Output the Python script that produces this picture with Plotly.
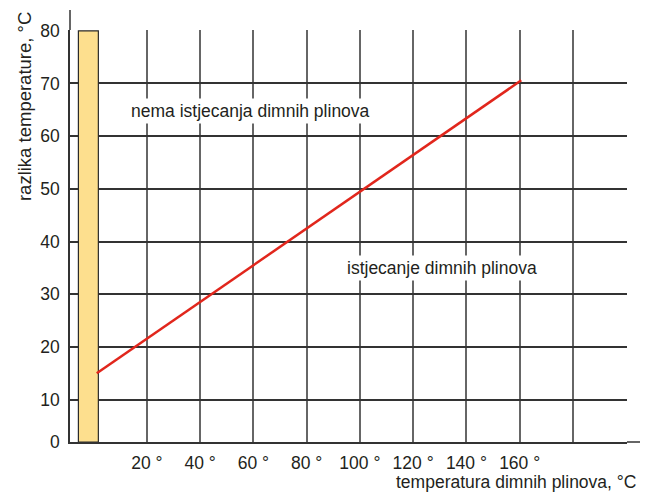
import plotly.graph_objects as go

# ---- data ----
x_tick_vals = [20, 40, 60, 80, 100, 120, 140, 160, 180, 200]
x_tick_text = ["20 °", "40 °", "60 °", "80 °", "100 °", "120 °", "140 °", "160 °", "", ""]
y_tick_vals = [10, 20, 30, 40, 50, 60, 70, 80]
y_tick_text = ["10", "20", "30", "40", "50", "60", "70", "80"]
y_zero_label = "0"

line_x = [1.2, 160.6]          # temperatura dimnih plinova
line_y = [15.0, 70.6]          # razlika temperature

zone_x = [-5.7, 1.8]           # yellow zone (x extent)
zone_top = 80

label_above = "nema istjecanja dimnih plinova"
label_above_pos = (59, 64.8)
label_below = "istjecanje dimnih plinova"
label_below_pos = (131, 34.9)

x_title = "temperatura dimnih plinova, °C"
y_title = "razlika temperature, °C"

# ---- layout constants (page body adds an 8px offset) ----
OFF = 8
W, H = 653 - OFF, 495 - OFF
ML, MT = 70 - OFF, 30 - OFF
MR = W - (627 - OFF)
MB = H - (441.7 - OFF)
X_RANGE = [-8.85, 200.3]
Y_BOTTOM = 1.97
Y_RANGE = [Y_BOTTOM, 80.15]
FONT = "Liberation Sans, Arial, sans-serif"
FS = 17.5
TXT = "#231f20"

fig = go.Figure()

fig.add_trace(go.Bar(
    x=[(zone_x[0] + zone_x[1]) / 2],
    y=[zone_top - Y_BOTTOM],
    base=[Y_BOTTOM],
    width=[zone_x[1] - zone_x[0]],
    marker=dict(color="#fddf8e", line=dict(color="#2a2a2a", width=1.2)),
    hoverinfo="skip",
    showlegend=False,
))

fig.add_trace(go.Scatter(
    x=line_x, y=line_y, mode="lines",
    line=dict(color="#e1261c", width=2.5),
    hoverinfo="skip", showlegend=False,
))

pw = W - ML - MR
ph = H - MT - MB


def px_x(p):
    return ((p - OFF) - ML) / pw


def px_y(p):
    return ((H - MB) - (p - OFF)) / ph


fig.update_layout(
    width=W, height=H,
    margin=dict(l=ML, r=MR, t=MT, b=MB, pad=0),
    paper_bgcolor="white", plot_bgcolor="white",
    font=dict(family=FONT, size=FS, color=TXT),
    showlegend=False,
    hovermode=False,
    xaxis=dict(
        range=X_RANGE, tickmode="array",
        tickvals=x_tick_vals, ticktext=x_tick_text,
        showgrid=True, gridcolor="#666666", gridwidth=2,
        zeroline=False, showline=True, linecolor="#333333", linewidth=1.5,
        ticks="", ticklabelstandoff=4,
        tickfont=dict(family=FONT, size=FS, color=TXT),
    ),
    yaxis=dict(
        range=Y_RANGE, tickmode="array",
        tickvals=[Y_BOTTOM] + y_tick_vals, ticktext=[y_zero_label] + y_tick_text,
        showgrid=True, gridcolor="#333333", gridwidth=1.5,
        zeroline=False, showline=True, linecolor="#333333", linewidth=1.5,
        ticks="", ticklabelstandoff=5,
        tickfont=dict(family=FONT, size=FS, color=TXT),
    ),
    shapes=[
        dict(type="line", xref="paper", yref="paper", x0=0, x1=0,
             y0=1, y1=px_y(10), line=dict(color="#333333", width=1.5)),
        dict(type="line", xref="paper", yref="paper", x0=1, x1=px_x(640),
             y0=0, y1=0, line=dict(color="#333333", width=1.5)),
    ],
    annotations=[
        dict(text=label_above, x=label_above_pos[0], y=label_above_pos[1],
             xref="x", yref="y", showarrow=False, bgcolor="white", borderpad=2,
             font=dict(family=FONT, size=FS, color=TXT)),
        dict(text=label_below, x=label_below_pos[0], y=label_below_pos[1],
             xref="x", yref="y", showarrow=False, bgcolor="white", borderpad=2,
             font=dict(family=FONT, size=FS, color=TXT)),
        dict(text=x_title, xref="paper", yref="paper",
             x=px_x(638), y=px_y(482),
             xanchor="right", yanchor="middle", showarrow=False,
             font=dict(family=FONT, size=FS, color=TXT)),
        dict(text=y_title, xref="paper", yref="paper", textangle=-90,
             x=px_x(24), y=px_y(107),
             xanchor="center", yanchor="middle", showarrow=False,
             font=dict(family=FONT, size=18.5, color=TXT)),
    ],
)

fig.write_html("out.html")
